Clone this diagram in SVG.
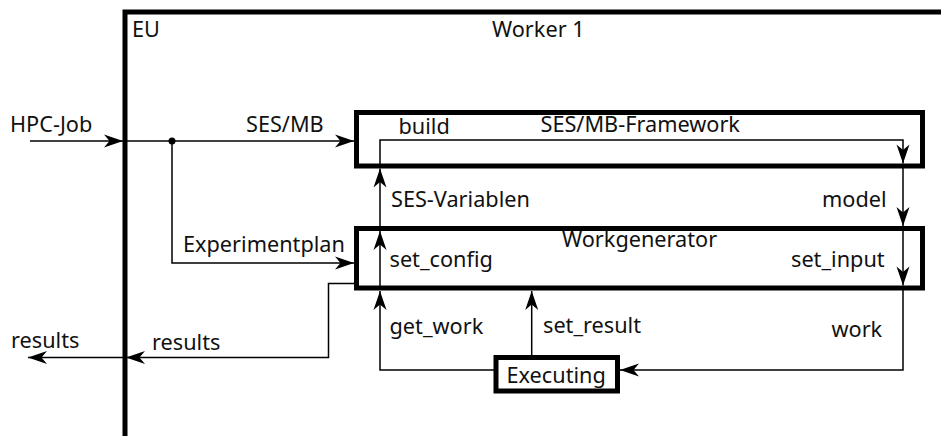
<svg xmlns="http://www.w3.org/2000/svg" width="941" height="436" viewBox="0 0 941 436">
  <style>
    text { font-family: "Noto Sans", "Open Sans", "DejaVu Sans", sans-serif; font-size: 21.7px; fill: #111; }
    .frame { fill: none; stroke: #000; stroke-width: 5; }
    .box { fill: #fff; stroke: #000; stroke-width: 5; }
    .conn { fill: none; stroke: #000; stroke-width: 1.5; }
    .arrow { marker-end: url(#head); }
  </style>
  <defs>
    <marker id="head" markerUnits="userSpaceOnUse" markerWidth="24" markerHeight="16" viewBox="-20 -8 22 16" refX="0" refY="0" orient="auto">
      <path d="M0,0 L-19,-6.5 L-13.5,0 L-19,6.5 Z" fill="#000"/>
    </marker>
  </defs>

  <rect width="941" height="436" fill="#fff"/>

  <!-- execution unit frame with the worker -->
  <g id="eu-worker">
    <path class="frame" d="M125,440 V12 H945"/>
    <text x="132" y="36.5">EU</text>
    <text x="492" y="37">Worker 1</text>
  </g>

  <!-- nodes -->
  <g id="ses-mb-framework">
    <rect class="box" x="356.5" y="112.5" width="566" height="53.5"/>
    <text x="540.5" y="132.3">SES/MB-Framework</text>
  </g>

  <g id="workgenerator">
    <rect class="box" x="356.5" y="228.5" width="566" height="59.5"/>
    <text x="562" y="246.5">Workgenerator</text>
  </g>

  <g id="executing">
    <rect class="box" x="496" y="357.5" width="121.5" height="33.5"/>
    <text x="506.5" y="383.3">Executing</text>
  </g>

  <!-- connectors -->
  <g id="connectors">
    <path class="conn arrow" d="M30,141 H123"/>
    <path class="conn arrow" d="M125,141 H354"/>
    <circle cx="172" cy="141" r="3.5" fill="#000"/>
    <path class="conn arrow" d="M172,141 V263 H354"/>
    <path class="conn arrow" d="M354,283.5 H328.5 V357.5 H126"/>
    <path class="conn arrow" d="M124,357.5 H28"/>

    <!-- left chain: Executing -> Workgenerator -> SES/MB-Framework -->
    <path class="conn arrow" d="M494,370 H380 V291"/>
    <path class="conn arrow" d="M380,288 V231"/>
    <path class="conn arrow" d="M380,228 V168.5"/>
    <path class="conn arrow" d="M380,165 V140 H903 V163.5"/>

    <!-- right chain: model -> set_input -> work -->
    <path class="conn arrow" d="M903,166 V226"/>
    <path class="conn arrow" d="M903,229 V285.5"/>
    <path class="conn arrow" d="M903,288 V370 H620"/>

    <!-- set_result -->
    <path class="conn arrow" d="M531.7,355 V291"/>
  </g>

  <!-- connector labels -->
  <g id="labels">
    <text x="10" y="131.7">HPC-Job</text>
    <text x="246" y="131.7">SES/MB</text>
    <text x="398.5" y="134">build</text>
    <text x="391" y="206.7">SES-Variablen</text>
    <text x="822" y="206.7">model</text>
    <text x="183" y="252.3">Experimentplan</text>
    <text x="389.5" y="266.7">set_config</text>
    <text x="791" y="266.7">set_input</text>
    <text x="389.5" y="334">get_work</text>
    <text x="543" y="333.3">set_result</text>
    <text x="831.5" y="337.3">work</text>
    <text x="11" y="348.3">results</text>
    <text x="152" y="350">results</text>
  </g>
</svg>
